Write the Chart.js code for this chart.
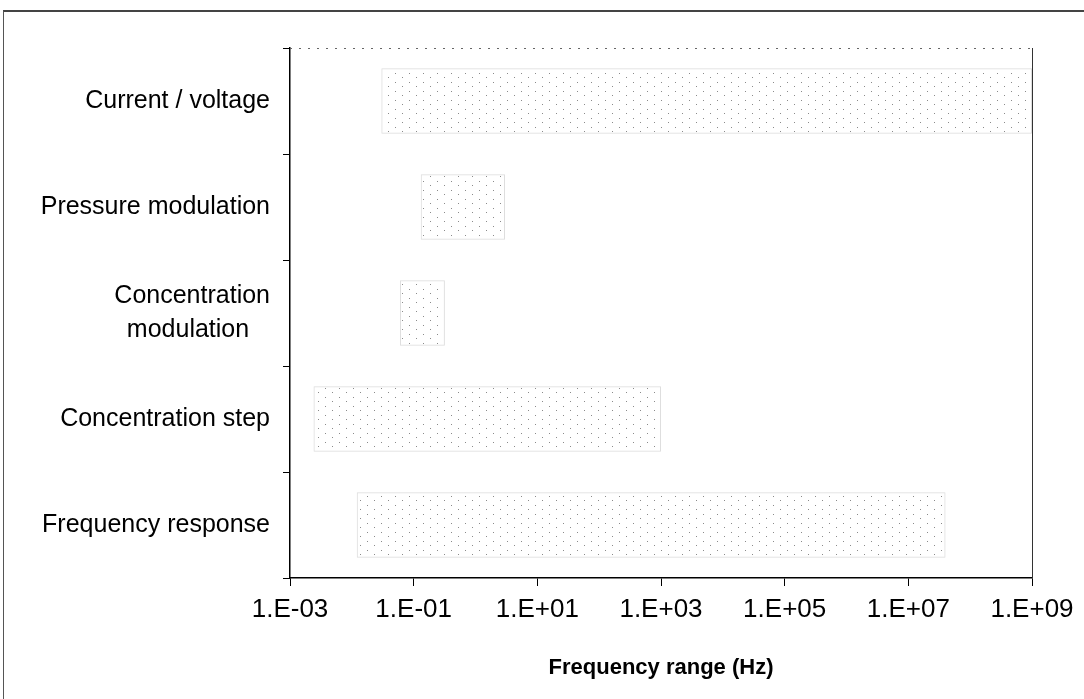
<!DOCTYPE html>
<html>
<head>
<meta charset="utf-8">
<script src="https://cdn.jsdelivr.net/npm/chart.js@4"></script>
<style>
  html, body { margin: 0; padding: 0; background: #fff; overflow: hidden; }
  #marco { position: absolute; left: 3px; top: 10px; width: 1090px; height: 700px; border-left: 1px solid #555; border-top: 2px solid #444; }
  #caja { position: absolute; left: 0; top: 0; width: 1084px; height: 699px; }
</style>
</head>
<body>
<div id="marco"></div>
<div id="caja"><canvas id="myChart"></canvas></div>
<script>
// metodos y rangos de frecuencia (Hz)
const metodos = ['Current / voltage', 'Pressure modulation', ['Concentration', 'modulation   '], 'Concentration step', 'Frequency response']
const frecMin = [0.03, 0.13, 0.06, 0.0024, 0.012]
const frecMax = [1e9, 3, 0.32, 1000, 4e7]
const ticksX = [1e-3, 1e-1, 1e1, 1e3, 1e5, 1e7, 1e9]

const fuente = "'Liberation Sans', Arial, sans-serif"

// relleno punteado y muy claro, como el sombreado del escaneo
const patron = document.createElement('canvas')
patron.width = 14
patron.height = 9
const pctx = patron.getContext('2d')
pctx.fillStyle = '#8a8a8a'
pctx.fillRect(3, 1, 1, 1)
pctx.fillRect(10, 5, 1, 1)
const relleno = document.getElementById('myChart').getContext('2d').createPattern(patron, 'repeat')

const rangos = frecMin.map((v, i) => [v, frecMax[i]])

// borde superior y derecho del area del grafico
const bordeArea = {
    id: 'bordeArea',
    afterDraw(chart) {
        const { ctx, chartArea } = chart
        ctx.save()
        ctx.strokeStyle = '#666'
        ctx.lineWidth = 1
        ctx.setLineDash([2, 7])
        ctx.beginPath()
        ctx.moveTo(chartArea.left, chartArea.top + 0.5)
        ctx.lineTo(chartArea.right, chartArea.top + 0.5)
        ctx.stroke()
        ctx.setLineDash([])
        ctx.strokeStyle = '#333'
        ctx.beginPath()
        ctx.moveTo(chartArea.right + 0.5, chartArea.top)
        ctx.lineTo(chartArea.right + 0.5, chartArea.bottom)
        ctx.stroke()
        ctx.restore()
    }
}

const config = {
    type: 'bar',
    data: {
        labels: metodos,
        datasets: [{
            data: rangos,
            backgroundColor: relleno,
            borderColor: '#dedede',
            borderWidth: 1,
            borderSkipped: false,
            barPercentage: 0.62,
            categoryPercentage: 1
        }]
    },
    options: {
        indexAxis: 'y',
        responsive: true,
        maintainAspectRatio: false,
        animation: false,
        layout: { padding: { left: 0, top: 48, right: 52, bottom: 0 } },
        plugins: { legend: { display: false }, tooltip: { enabled: false } },
        scales: {
            x: {
                type: 'logarithmic',
                min: 1e-3,
                max: 1e9,
                afterBuildTicks: (eje) => { eje.ticks = ticksX.map(v => ({ value: v })) },
                afterFit: (eje) => { eje.height = 699 - 578 },
                ticks: {
                    color: '#000',
                    padding: 8,
                    maxRotation: 0,
                    autoSkip: false,
                    font: { family: fuente, size: 26 },
                    callback: (v) => {
                        const e = Math.round(Math.log10(v))
                        return '1.E' + (e < 0 ? '-' : '+') + String(Math.abs(e)).padStart(2, '0')
                    }
                },
                grid: { drawOnChartArea: false, tickLength: 8, color: '#000', lineWidth: 1 },
                border: { color: '#000', width: 1.5 },
                title: {
                    display: true,
                    text: 'Frequency range (Hz)',
                    color: '#000',
                    font: { family: fuente, size: 22, weight: 'bold' },
                    padding: { top: 0, bottom: 18 }
                }
            },
            y: {
                afterFit: (eje) => { eje.width = 290 },
                ticks: {
                    color: '#000',
                    padding: 13,
                    font: { family: fuente, size: 25, lineHeight: 1.35 }
                },
                grid: { drawOnChartArea: false, tickLength: 7, color: '#000', lineWidth: 1, offset: true },
                border: { color: '#000', width: 1.5 }
            }
        }
    },
    plugins: [bordeArea]
}

var myChart = new Chart(document.getElementById('myChart'), config)
</script>
</body>
</html>
